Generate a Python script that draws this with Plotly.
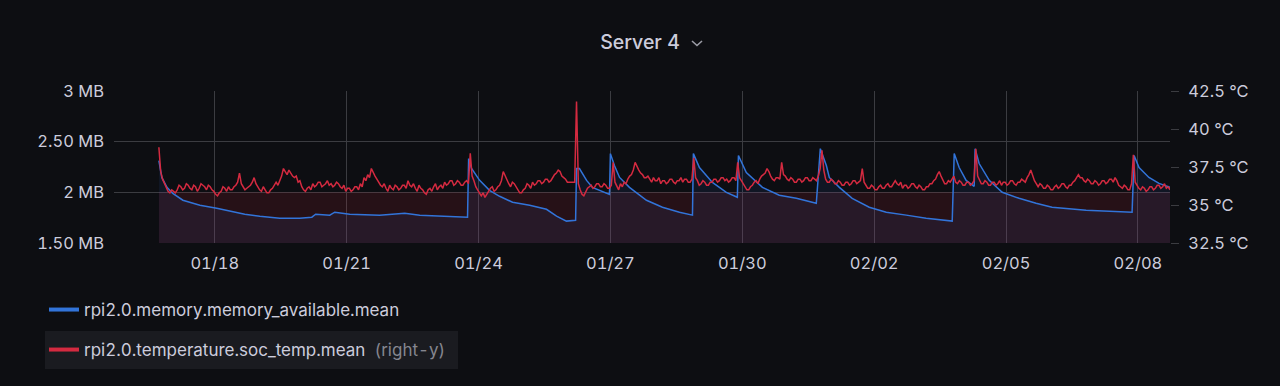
import pandas as pd
import plotly.graph_objects as go

# ---------------- data ----------------
# temperature (right axis), one sample every hour starting at temp_start
temp_start = "2023-01-16 17:30"
temp_step_hours = 1
soc_temp_c = [
    38.8, 37.2, 36.7, 36.4, 36.2, 35.9, 35.8, 36.0, 35.9, 35.8,
    36.0, 36.3, 36.2, 36.0, 36.1, 36.4, 36.3, 36.1, 36.0, 36.3,
    36.2, 35.9, 36.1, 36.4, 36.3, 36.2, 36.0, 36.3, 36.2, 36.0,
    35.9, 35.7, 35.6, 35.8, 35.9, 36.2, 36.1, 35.9, 36.2, 36.0,
    36.0, 36.2, 36.3, 36.5, 37.1, 36.4, 36.2, 36.0, 36.1, 36.2,
    36.3, 36.5, 36.8, 36.4, 36.2, 36.0, 35.9, 36.2, 36.0, 35.8,
    35.8, 36.0, 36.1, 36.3, 36.5, 36.3, 36.6, 36.9, 37.4, 37.2,
    37.0, 37.3, 37.1, 36.9, 36.8, 36.9, 36.5, 36.6, 36.2, 36.0,
    35.9, 36.1, 36.2, 36.0, 36.4, 36.2, 36.3, 36.5, 36.5, 36.2,
    36.3, 36.4, 36.6, 36.3, 36.4, 36.2, 36.3, 36.5, 36.4, 36.2,
    36.1, 36.3, 35.9, 36.1, 36.1, 35.9, 36.0, 36.2, 36.2, 36.0,
    36.4, 36.2, 36.8, 36.6, 37.0, 36.8, 37.4, 37.1, 36.9, 36.7,
    36.5, 36.3, 36.2, 36.4, 36.1, 35.9, 36.3, 36.1, 36.0, 36.3,
    36.2, 36.0, 36.1, 36.3, 36.3, 36.1, 36.6, 36.3, 36.2, 36.4,
    36.1, 35.9, 36.3, 36.1, 36.0, 35.8, 35.7, 36.0, 36.1, 35.9,
    36.2, 36.4, 36.0, 36.2, 36.3, 36.1, 36.5, 36.3, 36.4, 36.6,
    36.6, 36.3, 36.4, 36.6, 36.5, 36.3, 36.3, 36.5, 36.6, 36.4,
    38.4, 36.9, 36.6, 36.2, 36.0, 35.8, 35.6, 35.8, 35.5, 35.7,
    35.9, 36.1, 36.2, 35.9, 36.0, 36.2, 36.3, 36.6, 37.2, 36.9,
    36.7, 36.4, 36.2, 36.5, 36.4, 36.2, 36.0, 35.8, 35.8, 36.0,
    36.1, 36.4, 36.3, 36.1, 36.5, 36.3, 36.4, 36.6, 36.6, 36.4,
    36.5, 36.7, 36.7, 36.5, 36.6, 36.8, 37.0, 37.1, 37.3, 37.2,
    36.9, 36.8, 36.7, 36.5, 36.5, 36.5, 36.5, 36.5, 41.8, 36.4,
    36.0, 35.7, 35.6, 35.9, 36.1, 36.2, 36.3, 36.1, 36.2, 36.4,
    36.4, 36.2, 36.2, 36.4, 36.3, 36.1, 36.1, 36.3, 37.8, 36.5,
    36.2, 36.0, 36.4, 36.2, 36.5, 36.4, 36.7, 36.9, 37.0, 37.3,
    37.8, 37.5, 37.3, 37.1, 37.0, 36.8, 36.8, 36.9, 36.7, 36.5,
    36.8, 36.6, 36.6, 36.8, 36.4, 36.6, 36.6, 36.4, 36.5, 36.7,
    36.7, 36.5, 36.4, 36.6, 36.6, 36.8, 36.5, 36.7, 36.7, 36.5,
    36.5, 36.7, 38.1, 36.8, 36.6, 36.3, 36.4, 36.6, 36.5, 36.3,
    36.3, 36.5, 36.5, 36.7, 36.7, 36.5, 36.6, 36.8, 36.8, 36.6,
    36.7, 36.5, 36.6, 36.8, 36.8, 36.6, 37.8, 36.8, 36.6, 36.4,
    36.2, 36.0, 36.0, 36.2, 36.3, 36.5, 36.6, 36.4, 36.7, 36.9,
    37.0, 37.1, 37.4, 37.2, 36.9, 36.7, 36.6, 36.8, 36.8, 36.7,
    37.8, 37.0, 36.9, 36.7, 36.6, 36.8, 36.7, 36.5, 36.5, 36.7,
    36.7, 36.5, 36.6, 36.8, 36.8, 36.6, 36.6, 36.8, 36.7, 36.6,
    36.9, 37.4, 38.6, 37.3, 36.7, 36.5, 36.5, 36.7, 36.6, 36.4,
    36.4, 36.6, 36.5, 36.3, 36.3, 36.5, 36.5, 36.3, 36.4, 36.6,
    36.6, 36.4, 36.5, 36.6, 37.4, 36.5, 36.3, 36.1, 36.1, 36.3,
    36.2, 36.0, 36.0, 36.2, 36.3, 36.1, 36.1, 36.3, 36.4, 36.2,
    36.2, 36.4, 36.6, 36.4, 36.3, 36.5, 36.1, 36.3, 36.3, 36.1,
    36.2, 36.4, 36.4, 36.2, 36.1, 36.3, 36.2, 36.0, 36.0, 36.2,
    36.2, 36.4, 36.4, 36.6, 36.7, 37.0, 37.2, 36.9, 36.6, 36.4,
    36.4, 36.6, 36.5, 36.7, 36.9, 36.5, 36.4, 36.6, 36.5, 36.3,
    36.3, 36.5, 36.5, 36.3, 36.4, 36.6, 38.7, 36.9, 36.6, 36.4,
    36.4, 36.6, 36.5, 36.3, 36.3, 36.5, 36.5, 36.3, 36.4, 36.6,
    36.3, 36.5, 36.5, 36.3, 36.4, 36.6, 36.6, 36.4, 36.3, 36.5,
    36.5, 36.7, 36.6, 36.5, 36.8, 37.0, 37.3, 36.9, 36.6, 36.4,
    36.2, 36.4, 36.3, 36.1, 36.1, 36.3, 36.2, 36.0, 36.0, 36.2,
    36.3, 36.1, 36.2, 36.4, 36.4, 36.2, 36.1, 36.3, 36.3, 36.5,
    36.6, 36.8, 37.0, 36.8, 36.8, 36.6, 36.5, 36.7, 36.6, 36.4,
    36.4, 36.6, 36.5, 36.3, 36.4, 36.6, 36.6, 36.4, 36.5, 36.7,
    36.7, 36.5, 36.8, 36.6, 36.3, 36.2, 36.1, 36.3, 36.2, 36.0,
    36.0, 36.4, 38.3, 36.5, 36.3, 36.1, 36.0, 36.2, 36.1, 35.9,
    36.0, 36.2, 36.2, 36.0, 36.1, 36.3, 36.3, 36.1, 36.2, 36.4,
    36.1, 36.2, 36.0,
]

# memory available (left axis): hours after temp_start, value in MB
mem_hours = [
    0, 1.6, 4.4, 7.6, 13.1, 22.4, 31.6, 38.7, 46.9, 55.1, 66, 76.9, 83.5, 85.6,
    93.3, 96, 104.2, 120.5, 134.2, 142.4, 158.7, 168.5,
    169.1, 170.7, 175.1, 180.5, 186, 193.1, 202.4, 211.6, 217.1, 222.5, 227.5,
    228, 229.6, 233.5, 236.7, 240.5, 246,
    246.5, 248.7, 251.5, 256.9, 266.2, 274.9, 284.2, 291.3,
    291.8, 295.1, 302.2, 309.8, 315.8,
    316.4, 320.7, 329.5, 338.7, 348, 358.9,
    361.1, 364.4, 366, 371.5, 378.5, 387.8, 397.1, 408, 418.9, 433.1,
    434.2, 436.9, 440.7, 445.1,
    445.6, 447.8, 453.3, 460.4, 469.6, 478.9, 487.6, 506.2, 524.2, 531.3,
    532.4, 535.1, 540.5, 546, 552,
]
mem_available_mb = [
    2.314, 2.147, 2.049, 1.990, 1.922, 1.873, 1.843, 1.814, 1.784, 1.765, 1.745, 1.745, 1.755, 1.784,
    1.775, 1.804, 1.784, 1.775, 1.794, 1.775, 1.765, 1.755,
    2.333, 2.235, 2.118, 2.020, 1.961, 1.902, 1.873, 1.833, 1.765, 1.716, 1.725,
    2.235, 2.235, 2.118, 2.049, 2.020, 1.980,
    2.382, 2.265, 2.147, 2.049, 1.922, 1.853, 1.804, 1.775,
    2.382, 2.245, 2.098, 2.000, 1.951,
    2.363, 2.196, 2.049, 1.971, 1.941, 1.892,
    2.431, 2.265, 2.147, 2.049, 1.941, 1.853, 1.804, 1.775, 1.745, 1.716,
    2.382, 2.245, 2.118, 2.059,
    2.431, 2.284, 2.118, 2.000, 1.941, 1.892, 1.853, 1.824, 1.814, 1.804,
    2.363, 2.245, 2.147, 2.088, 2.049,
]

left_tickvals = [1.5, 2.0, 2.5, 3.0]
left_ticktext = ["1.50 MB", "2 MB", "2.50 MB", "3 MB"]
right_tickvals = [32.5, 35, 37.5, 40, 42.5]
right_ticktext = ["32.5 °C", "35 °C", "37.5 °C", "40 °C", "42.5 °C"]
x_range = ["2023-01-15 17:00", "2023-02-08 17:30"]
x_tick0 = "2023-01-18"
temp_fill_base_mb = 2.0

series_names = ["rpi2.0.memory.memory_available.mean",
                "rpi2.0.temperature.soc_temp.mean"]

# ---------------- build ----------------
temp_times = pd.date_range(temp_start, periods=len(soc_temp_c), freq=f"{temp_step_hours}h")
mem_times = pd.Timestamp(temp_start) + pd.to_timedelta(mem_hours, unit="h")

BG = "#0d0e12"
GRID = "#3b3c41"
TXT = "#ccccdc"
BLUE = "#3274D9"
RED = "#D42A40"
FONT = "Inter, Roboto, sans-serif"

fig = go.Figure()

# red series area (flat band under the temperature line)
fig.add_trace(go.Scatter(
    x=[temp_times[0], temp_times[-1]], y=[temp_fill_base_mb, temp_fill_base_mb],
    mode="lines", line=dict(width=0), fill="tozeroy",
    fillcolor="rgba(212,42,64,0.13)", showlegend=False, hoverinfo="skip"))

fig.add_trace(go.Scatter(
    x=mem_times, y=mem_available_mb, mode="lines",
    line=dict(color=BLUE, width=1.5), fill="tozeroy",
    fillcolor="rgba(50,116,217,0.09)", showlegend=False,
    name=series_names[0]))

fig.add_trace(go.Scatter(
    x=temp_times, y=soc_temp_c, mode="lines", yaxis="y2",
    line=dict(color=RED, width=1.5), showlegend=False,
    name=series_names[1]))

# legend entries
fig.add_trace(go.Scatter(x=[None], y=[None], mode="lines",
                         line=dict(color=BLUE, width=4),
                         name=series_names[0], legend="legend"))
fig.add_trace(go.Scatter(x=[None], y=[None], mode="lines", yaxis="y2",
                         line=dict(color=RED, width=4),
                         name=series_names[1] + "&nbsp;&nbsp;<span style='color:#85868f'>(right-y)</span>",
                         legend="legend2"))

L, R, T, B = 114, 1170, 91, 243
W, H = 1280, 386

def px(x):
    return (x - L) / (R - L)

def py(y):
    return (B - y) / (B - T)

shapes = [
    # highlighted legend row background
    dict(type="rect", xref="paper", yref="paper", layer="below",
         x0=px(45), x1=px(458), y0=py(369), y1=py(331),
         fillcolor="#1a1b20", line=dict(width=0)),
    # title chevron
    dict(type="path", xref="paper", yref="paper",
         path=f"M{px(692)},{py(41)} L{px(697)},{py(45.5)} L{px(702)},{py(41)}",
         line=dict(color="#9b9ca6", width=1.6)),
]

legend_common = dict(xref="container", yref="container", xanchor="left",
                     yanchor="middle", bgcolor="rgba(0,0,0,0)",
                     font=dict(family=FONT, size=17, color=TXT),
                     itemclick=False, itemdoubleclick=False)

TICKFONT = dict(family=FONT, size=16.5, color=TXT)

fig.update_layout(
    width=W, height=H, autosize=False,
    paper_bgcolor=BG, plot_bgcolor=BG,
    margin=dict(l=L, r=W - R, t=T, b=H - B, autoexpand=False),
    font=dict(family=FONT, size=16, color=TXT),
    title=dict(text="Server 4", x=640 / W, xref="container", xanchor="center",
               y=1 - 42 / H, yref="container", yanchor="middle",
               font=dict(family=FONT, size=19.5, color=TXT, weight=500)),
    xaxis=dict(type="date", range=x_range, tick0=x_tick0, dtick=3 * 86400000,
               tickformat="%m/%d", showgrid=True, gridcolor=GRID, gridwidth=1,
               zeroline=False, showline=False, ticks="", ticklabelstandoff=8,
               tickfont=TICKFONT),
    yaxis=dict(range=[1.5, 3.0], tickvals=left_tickvals, ticktext=left_ticktext,
               showgrid=True, gridcolor=GRID, gridwidth=1, zeroline=False,
               showline=False, ticks="", ticklabelstandoff=9,
               tickfont=TICKFONT),
    yaxis2=dict(range=[32.5, 42.5], tickvals=right_tickvals, ticktext=right_ticktext,
                overlaying="y", side="right", showgrid=False, zeroline=False,
                showline=False, ticks="outside", ticklen=8, tickcolor=GRID,
                ticklabelstandoff=6, tickfont=TICKFONT),
    legend=dict(x=44 / W, y=1 - 310 / H, **legend_common),
    legend2=dict(x=44 / W, y=1 - 350 / H, **legend_common),
    shapes=shapes,
    hovermode=False,
)

post = (
    "document.body.style.margin='0';"
    "document.body.style.background='" + BG + "';"
    "var s=document.createElement('style');"
    "s.textContent='text{font-variant-numeric:tabular-nums;font-feature-settings:\"tnum\" 1;}';"
    "document.head.appendChild(s);"
)

fig.write_html("out.html", config={"displayModeBar": False}, post_script=post)
